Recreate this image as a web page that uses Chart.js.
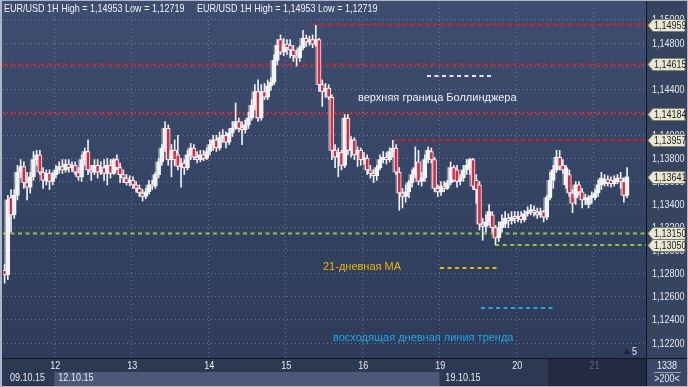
<!DOCTYPE html>
<html>
<head>
<meta charset="utf-8">
<title>EUR/USD 1H</title>
<script src="https://cdn.jsdelivr.net/npm/chart.js@4.4.1/dist/chart.umd.min.js"></script>
<style>
  html, body { margin: 0; padding: 0; background: #2e3a55; }
  #chart { display: block; }
</style>
</head>
<body>
<canvas id="chart" width="688" height="387"></canvas>
<script>
// hourly candles, 09.10.15 08:00 .. 21.10.15 ~10:00
const opens = [
  1.1283, 1.1279, 1.1346, 1.1331, 1.1348, 1.1368, 1.1373, 1.1359, 1.1355, 1.1364, 1.1379, 1.1383, 1.1368, 1.1361, 1.1367, 1.1360,
  1.1366, 1.1370, 1.1373, 1.1370, 1.1375, 1.1372, 1.1374, 1.1368, 1.1364, 1.1379, 1.1386, 1.1370, 1.1368, 1.1374, 1.1368, 1.1372, 1.1367, 1.1374, 1.1367, 1.1379, 1.1372, 1.1366, 1.1363, 1.1359,
  1.1361, 1.1357, 1.1354, 1.1350, 1.1347, 1.1351, 1.1357, 1.1356, 1.1366, 1.1377, 1.1389, 1.1406, 1.1379, 1.1387, 1.1383, 1.1373, 1.1376, 1.1372, 1.1383, 1.1389, 1.1381, 1.1379, 1.1383, 1.1380,
  1.1386, 1.1392, 1.1396, 1.1389, 1.1398, 1.1400, 1.1394, 1.1402, 1.1406, 1.1412, 1.1406, 1.1405, 1.1409, 1.1415, 1.1426, 1.1438, 1.1415, 1.1438, 1.1433, 1.1443, 1.1446, 1.1465, 1.1483, 1.1472,
  1.1479, 1.1478, 1.1474, 1.1469, 1.1467, 1.1476, 1.1484, 1.1481, 1.1483, 1.1479, 1.1483, 1.1444, 1.1438, 1.1441, 1.1433, 1.1387, 1.1381, 1.1385, 1.1374, 1.1415, 1.1387, 1.1396, 1.1383, 1.1387,
  1.1379, 1.1380, 1.1370, 1.1367, 1.1365, 1.1372, 1.1379, 1.1381, 1.1379, 1.1386, 1.1389, 1.1368, 1.1350, 1.1347, 1.1351, 1.1359, 1.1366, 1.1377, 1.1360, 1.1363, 1.1379, 1.1386, 1.1379, 1.1354,
  1.1351, 1.1356, 1.1354, 1.1359, 1.1372, 1.1370, 1.1360, 1.1363, 1.1370, 1.1372, 1.1379, 1.1361, 1.1357, 1.1323, 1.1321, 1.1325, 1.1331, 1.1320, 1.1311, 1.1320, 1.1323, 1.1328, 1.1326, 1.1329,
  1.1328, 1.1330, 1.1327, 1.1332, 1.1334, 1.1335, 1.1333, 1.1331, 1.1334, 1.1329, 1.1346, 1.1361, 1.1370, 1.1381, 1.1374, 1.1357, 1.1366, 1.1350, 1.1346, 1.1357, 1.1351, 1.1344, 1.1340, 1.1346,
  1.1346, 1.1350, 1.1357, 1.1358, 1.1362, 1.1361, 1.1358, 1.1360, 1.1363, 1.1360, 1.1348
];
const highs = [
  1.1288, 1.1348, 1.1353, 1.1353, 1.1374, 1.1379, 1.1377, 1.1368, 1.1368, 1.1386, 1.1387, 1.1387, 1.1372, 1.1370, 1.1370, 1.1368,
  1.1374, 1.1377, 1.1379, 1.1379, 1.1379, 1.1377, 1.1377, 1.1372, 1.1383, 1.1389, 1.1396, 1.1374, 1.1379, 1.1379, 1.1377, 1.1379, 1.1380, 1.1379, 1.1380, 1.1383, 1.1376, 1.1370, 1.1366, 1.1365,
  1.1364, 1.1360, 1.1357, 1.1353, 1.1354, 1.1361, 1.1361, 1.1368, 1.1380, 1.1392, 1.1412, 1.1409, 1.1392, 1.1396, 1.1400, 1.1380, 1.1379, 1.1387, 1.1393, 1.1392, 1.1386, 1.1387, 1.1387, 1.1389,
  1.1396, 1.1400, 1.1400, 1.1403, 1.1405, 1.1403, 1.1406, 1.1412, 1.1428, 1.1415, 1.1412, 1.1413, 1.1420, 1.1431, 1.1444, 1.1448, 1.1444, 1.1445, 1.1448, 1.1450, 1.1470, 1.1483, 1.1487, 1.1484,
  1.1483, 1.1483, 1.1478, 1.1474, 1.1478, 1.1491, 1.1487, 1.1486, 1.1487, 1.14953, 1.1484, 1.1448, 1.1445, 1.1444, 1.1435, 1.1392, 1.1389, 1.1387, 1.1418, 1.1418, 1.1399, 1.1398, 1.1390, 1.1389,
  1.1385, 1.1383, 1.1374, 1.1370, 1.1374, 1.1383, 1.1386, 1.1385, 1.1389, 1.13957, 1.1392, 1.1372, 1.1354, 1.1357, 1.1361, 1.1370, 1.1390, 1.1387, 1.1368, 1.1383, 1.1390, 1.1389, 1.1381, 1.1357,
  1.1360, 1.1360, 1.1361, 1.1377, 1.1374, 1.1374, 1.1366, 1.1374, 1.1379, 1.1380, 1.1380, 1.1366, 1.1360, 1.1328, 1.1331, 1.1340, 1.1334, 1.1322, 1.1325, 1.1331, 1.1334, 1.1332, 1.1334, 1.1334,
  1.1334, 1.1334, 1.1335, 1.1338, 1.1340, 1.1339, 1.1337, 1.1337, 1.1335, 1.1348, 1.1368, 1.1374, 1.1387, 1.1387, 1.1379, 1.1374, 1.1370, 1.1353, 1.1360, 1.1360, 1.1354, 1.1349, 1.1348, 1.1351,
  1.1353, 1.1361, 1.1368, 1.1366, 1.1365, 1.1364, 1.1365, 1.1366, 1.1368, 1.1363, 1.1372
];
const lows = [
  1.12719, 1.1275, 1.1316, 1.1328, 1.1344, 1.1363, 1.1354, 1.1344, 1.1350, 1.1361, 1.1374, 1.1366, 1.1354, 1.1357, 1.1353, 1.1357,
  1.1363, 1.1367, 1.1367, 1.1368, 1.1368, 1.1369, 1.1366, 1.1361, 1.1360, 1.1374, 1.1366, 1.1361, 1.1366, 1.1363, 1.1366, 1.1361, 1.1357, 1.1363, 1.1366, 1.1370, 1.1359, 1.1359, 1.1357, 1.1356,
  1.1354, 1.1351, 1.1347, 1.1343, 1.1345, 1.1349, 1.1353, 1.1354, 1.1363, 1.1374, 1.1386, 1.1374, 1.1364, 1.1374, 1.1370, 1.1355, 1.1366, 1.1370, 1.1379, 1.1379, 1.1376, 1.1377, 1.1378, 1.1379,
  1.1383, 1.1387, 1.1386, 1.1387, 1.1394, 1.1389, 1.1392, 1.1399, 1.1405, 1.1403, 1.1392, 1.1402, 1.1406, 1.1413, 1.1422, 1.1412, 1.1413, 1.1431, 1.1431, 1.1439, 1.1444, 1.1461, 1.1470, 1.1469,
  1.1470, 1.1467, 1.1464, 1.1460, 1.1464, 1.1474, 1.1477, 1.1478, 1.1476, 1.1477, 1.1438, 1.1425, 1.1433, 1.1431, 1.1379, 1.1372, 1.1364, 1.1370, 1.1372, 1.1383, 1.1381, 1.1379, 1.1373, 1.1374,
  1.1375, 1.1366, 1.1363, 1.1359, 1.1361, 1.1370, 1.1376, 1.1375, 1.1377, 1.1381, 1.1366, 1.1335, 1.1337, 1.1342, 1.1346, 1.1355, 1.1363, 1.1357, 1.1356, 1.1360, 1.1376, 1.1376, 1.1351, 1.1347,
  1.1348, 1.1351, 1.1353, 1.1357, 1.1360, 1.1355, 1.1357, 1.1360, 1.1366, 1.1366, 1.1353, 1.1341, 1.1318, 1.1309, 1.1316, 1.1322, 1.1316, 1.13050, 1.1308, 1.1316, 1.1320, 1.1320, 1.1323, 1.1324,
  1.1325, 1.1324, 1.1325, 1.1330, 1.1331, 1.1330, 1.1328, 1.1329, 1.1325, 1.1327, 1.1344, 1.1354, 1.1368, 1.1370, 1.1367, 1.1354, 1.1347, 1.1333, 1.1340, 1.1348, 1.1337, 1.1340, 1.1337, 1.1341,
  1.1344, 1.1347, 1.1353, 1.1356, 1.1356, 1.1355, 1.1356, 1.1358, 1.1354, 1.1342, 1.1346
];
const closes = [
  1.1279, 1.1344, 1.1331, 1.1348, 1.1368, 1.1373, 1.1359, 1.1355, 1.1364, 1.1379, 1.1383, 1.1368, 1.1361, 1.1367, 1.1360, 1.1366,
  1.1370, 1.1373, 1.1370, 1.1375, 1.1372, 1.1374, 1.1368, 1.1364, 1.1379, 1.1386, 1.1370, 1.1368, 1.1374, 1.1368, 1.1372, 1.1367, 1.1374, 1.1367, 1.1379, 1.1372, 1.1366, 1.1363, 1.1359, 1.1361,
  1.1357, 1.1354, 1.1350, 1.1347, 1.1351, 1.1357, 1.1356, 1.1366, 1.1377, 1.1389, 1.1406, 1.1379, 1.1387, 1.1379, 1.1373, 1.1376, 1.1372, 1.1383, 1.1389, 1.1381, 1.1379, 1.1383, 1.1380, 1.1386,
  1.1392, 1.1396, 1.1389, 1.1398, 1.1400, 1.1394, 1.1402, 1.1406, 1.1412, 1.1406, 1.1405, 1.1409, 1.1415, 1.1426, 1.1438, 1.1415, 1.1438, 1.1433, 1.1443, 1.1446, 1.1465, 1.1478, 1.1472, 1.1479,
  1.1476, 1.1474, 1.1469, 1.1467, 1.1476, 1.1484, 1.1481, 1.1483, 1.1479, 1.1483, 1.1444, 1.1438, 1.1441, 1.1433, 1.1387, 1.1381, 1.1385, 1.1374, 1.1415, 1.1387, 1.1396, 1.1383, 1.1387, 1.1379,
  1.1380, 1.1370, 1.1367, 1.1365, 1.1372, 1.1379, 1.1381, 1.1379, 1.1386, 1.1389, 1.1368, 1.1350, 1.1347, 1.1351, 1.1359, 1.1366, 1.1372, 1.1360, 1.1363, 1.1379, 1.1387, 1.1379, 1.1354, 1.1351,
  1.1356, 1.1354, 1.1359, 1.1372, 1.1361, 1.1360, 1.1363, 1.1370, 1.1374, 1.1379, 1.1356, 1.1353, 1.1323, 1.1321, 1.1325, 1.1334, 1.1320, 1.1311, 1.1320, 1.1325, 1.1328, 1.1326, 1.1329, 1.1328,
  1.1330, 1.1327, 1.1332, 1.1334, 1.1335, 1.1333, 1.1331, 1.1334, 1.1329, 1.1346, 1.1361, 1.1370, 1.1381, 1.1373, 1.1370, 1.1372, 1.1350, 1.1341, 1.1357, 1.1351, 1.1344, 1.1346, 1.1346, 1.1347,
  1.1350, 1.1357, 1.1363, 1.1362, 1.1359, 1.1358, 1.1361, 1.1363, 1.1360, 1.1348, 1.13641
];

// x axis: candle slots, day starts sit between candles
const dayTicks = [15.5, 39.5, 63.5, 87.5, 111.5, 135.5, 159.5, 183.5];
const dayLabels = ["12", "13", "14", "15", "16", "19", "20", "21"];
const weekLabels = ["09.10.15", "12.10.15", "19.10.15"];
const priceTicks = [1.122, 1.124, 1.126, 1.128, 1.130, 1.132, 1.134, 1.136, 1.138, 1.140, 1.142, 1.144, 1.146, 1.148, 1.150];

// drawn levels
const redLevels = [1.14959, 1.14615, 1.14184, 1.13957];
const redStarts = [96.1, -0.5, -0.5, 121.1];
const greenLevels = [1.1315, 1.1305];
const greenStarts = [-0.5, 152.9];
const tagLevels = [1.14959, 1.14615, 1.14184, 1.13957, 1.13641, 1.1315, 1.1305];

const X_MIN = -0.5;
const X_MAX = 199.9;
const Y_MIN = 1.1207;
const Y_MAX = 1.15173;

const UP = "#f2f3f5";
const DOWN = "#e3263c";
const GRID = "rgba(135,150,182,0.6)";
const SANS = '"Liberation Sans", Arial, sans-serif';
const SQUEEZE = 0.82; // terminal font is a narrow one

const fmt = (v) => v.toFixed(5).replace(".", ",");

const narrowText = (ctx, text, x, y, align) => {
  ctx.save();
  ctx.translate(x, y);
  ctx.scale(SQUEEZE, 1);
  ctx.textAlign = align || "left";
  ctx.fillText(text, 0, 0);
  ctx.restore();
};

const wickData = opens.map((o, i) => ({ x: i, y: [lows[i], highs[i]] }));
const bodyData = opens.map((o, i) => ({ x: i, y: [o, closes[i]] }));
const ghostData = opens.map((o, i) => ({ x: i - 0.6, y: [o, closes[i]] }));
const bodyColors = opens.map((o, i) => (closes[i] >= o ? UP : DOWN));

const levelLine = (level, start, color) => ({
  type: "line",
  data: [{ x: start, y: level }, { x: X_MAX, y: level }],
  borderColor: color,
  borderWidth: 2,
  borderDash: [4, 3.5],
  pointRadius: 0,
  order: 5,
});

const datasets = [
  {
    data: ghostData,
    backgroundColor: "rgba(185,190,200,0.6)",
    barThickness: 3,
    minBarLength: 1,
    order: 4,
  },
  {
    data: wickData,
    backgroundColor: "#eef0f4",
    barThickness: 1,
    order: 3,
  },
  {
    data: bodyData,
    backgroundColor: bodyColors,
    borderColor: "#f4f5f7",
    borderWidth: 1,
    borderSkipped: false,
    barThickness: 4,
    minBarLength: 2,
    order: 2,
  },
  ...redLevels.map((l, i) => levelLine(l, redStarts[i], "#e41b1b")),
  ...greenLevels.map((l, i) => levelLine(l, greenStarts[i], "#8dc540")),
];

const dashLine = (ctx, x1, x2, y, color) => {
  ctx.save();
  ctx.strokeStyle = color;
  ctx.lineWidth = 2;
  ctx.setLineDash([4, 3.5]);
  ctx.beginPath();
  ctx.moveTo(x1, y);
  ctx.lineTo(x2, y);
  ctx.stroke();
  ctx.restore();
};

// backgrounds, panels, tags and notes
const chartFrame = {
  id: "chartFrame",
  beforeDraw(chart) {
    const { ctx, chartArea: a, width, height } = chart;
    const xs = chart.scales.x;
    ctx.save();
    const g = ctx.createLinearGradient(0, 0, 0, a.bottom);
    g.addColorStop(0, "#3e4e70");
    g.addColorStop(1, "#2e3b59");
    ctx.fillStyle = g;
    ctx.fillRect(0, 0, width, a.bottom);
    ctx.fillStyle = "#36445f";
    ctx.fillRect(a.right, 0, width - a.right, a.bottom);
    // bottom panel
    ctx.fillStyle = "#2d3853";
    ctx.fillRect(0, a.bottom, a.right, height - a.bottom);
    const w1 = xs.getPixelForValue(dayTicks[0]);
    const w2 = xs.getPixelForValue(dayTicks[5]);
    ctx.fillStyle = "#4b5877";
    ctx.fillRect(w1, a.bottom + 14, w2 - w1, height - a.bottom - 15);
    ctx.fillStyle = "#222b41";
    ctx.fillRect(548, a.bottom + 1, a.right - 548, height - a.bottom - 2);
    ctx.fillStyle = "#3a4765";
    ctx.fillRect(a.right, a.bottom, width - a.right, height - a.bottom);
    ctx.restore();
  },
  afterDraw(chart) {
    const { ctx, chartArea: a, width, height } = chart;
    const xs = chart.scales.x;
    const ys = chart.scales.y;
    ctx.save();
    // separators
    ctx.fillStyle = "#11161f";
    ctx.fillRect(a.right, 0, 1, height);
    ctx.fillRect(0, a.bottom, width, 1);

    ctx.font = "11px " + SANS;
    ctx.textBaseline = "middle";

    // price scale labels
    ctx.fillStyle = "#e4e8f0";
    priceTicks.forEach((v) => narrowText(ctx, fmt(v), a.right + 6, ys.getPixelForValue(v) + 0.5));

    // day labels
    dayTicks.forEach((v, i) => {
      ctx.fillStyle = i === dayTicks.length - 1 ? "#5e6880" : "#e8ebf1";
      narrowText(ctx, dayLabels[i], xs.getPixelForValue(v) + 1, a.bottom + 8, "center");
    });

    // title
    ctx.fillStyle = "#f2f4f8";
    const title = "EUR/USD 1H High = 1,14953 Low = 1,12719";
    narrowText(ctx, title, 4, 9);
    narrowText(ctx, title, 197, 9);

    // week labels
    ctx.fillStyle = "#e8ebf1";
    narrowText(ctx, weekLabels[0], 10, a.bottom + 20);
    narrowText(ctx, weekLabels[1], xs.getPixelForValue(dayTicks[0]) + 4, a.bottom + 20);
    narrowText(ctx, weekLabels[2], xs.getPixelForValue(dayTicks[5]) + 6, a.bottom + 20);

    // corner box
    narrowText(ctx, "1338", 667, a.bottom + 8, "center");
    narrowText(ctx, ">200<", 667, a.bottom + 21, "center");
    ctx.fillStyle = "#9aa4b8";
    ctx.fillRect(654, a.bottom + 14, 27, 1);

    // scroll marker
    ctx.fillStyle = "#1c2438";
    ctx.beginPath();
    ctx.moveTo(623, a.bottom - 4);
    ctx.lineTo(627, a.bottom - 9);
    ctx.lineTo(631, a.bottom - 4);
    ctx.closePath();
    ctx.fill();
    ctx.fillStyle = "#e8ebf1";
    narrowText(ctx, "5", 632, a.bottom - 6);

    // notes
    dashLine(ctx, 427, 493, 76, "#e6e8ee");
    dashLine(ctx, 440, 498, 268, "#f0b400");
    dashLine(ctx, 481, 556, 308, "#1ea7e6");
    ctx.textAlign = "left";
    ctx.fillStyle = "#eef0f4";
    ctx.fillText("верхняя граница Боллинджера", 358, 98);
    ctx.fillStyle = "#f0b400";
    ctx.fillText("21-дневная МА", 323, 267);
    ctx.fillStyle = "#1ea7e6";
    ctx.fillText("восходящая дневная линия тренда", 333, 338);

    // price tags
    tagLevels.forEach((lv) => {
      const y = Math.round(ys.getPixelForValue(lv)) + 0.5;
      ctx.fillStyle = "#e9e7cf";
      ctx.strokeStyle = "#7d7f70";
      ctx.lineWidth = 1;
      ctx.beginPath();
      ctx.moveTo(648, y);
      ctx.lineTo(653, y - 6);
      ctx.lineTo(685, y - 6);
      ctx.lineTo(685, y + 6);
      ctx.lineTo(653, y + 6);
      ctx.closePath();
      ctx.fill();
      ctx.stroke();
      ctx.fillStyle = "#1d1f24";
      narrowText(ctx, fmt(lv), 654, y + 0.5);
    });

    // outer frame
    ctx.strokeStyle = "#aeb5c4";
    ctx.lineWidth = 1;
    ctx.strokeRect(0.5, 0.5, width - 1, height - 1);
    ctx.fillStyle = "#aeb5c4";
    ctx.fillRect(0, 0, 2, height);
    ctx.restore();
  },
};

new Chart(document.getElementById("chart"), {
  type: "bar",
  data: { datasets },
  options: {
    responsive: false,
    animation: false,
    events: [],
    layout: { padding: { left: 3, top: 0, right: 0, bottom: 0 } },
    datasets: { bar: { grouped: false } },
    plugins: { legend: { display: false }, tooltip: { enabled: false } },
    scales: {
      x: {
        type: "linear",
        min: X_MIN,
        max: X_MAX,
        offset: false,
        afterBuildTicks: (scale) => {
          scale.ticks = dayTicks.map((v) => ({ value: v }));
        },
        afterFit: (scale) => {
          scale.height = 29;
          scale.paddingLeft = 0;
          scale.paddingRight = 0;
        },
        grid: { offset: false, color: GRID, drawTicks: false },
        border: { display: false, dash: [1, 3] },
        ticks: { display: false },
      },
      y: {
        position: "right",
        min: Y_MIN,
        max: Y_MAX,
        afterBuildTicks: (scale) => {
          scale.ticks = priceTicks.map((v) => ({ value: v }));
        },
        afterFit: (scale) => {
          scale.width = 42;
          scale.paddingTop = 0;
          scale.paddingBottom = 0;
        },
        grid: { color: GRID, drawTicks: false },
        border: { display: false, dash: [1, 3] },
        ticks: { display: false },
      },
    },
  },
  plugins: [chartFrame],
});
</script>
</body>
</html>
